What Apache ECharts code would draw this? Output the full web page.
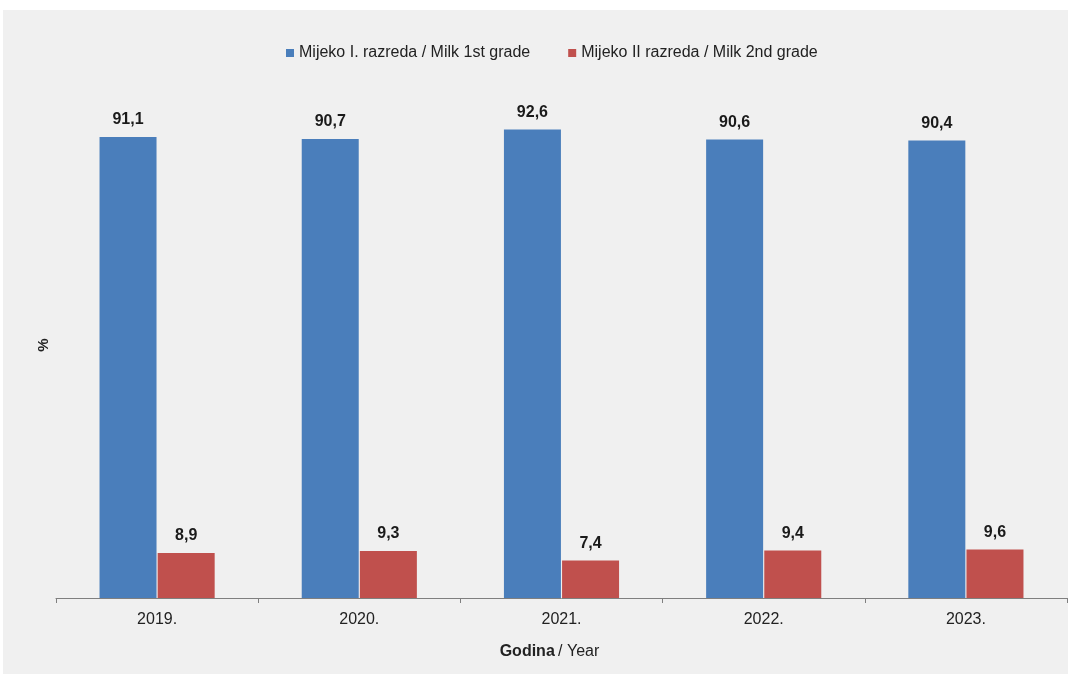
<!DOCTYPE html>
<html>
<head>
<meta charset="utf-8">
<script src="https://cdn.jsdelivr.net/npm/echarts@6/dist/echarts.min.js"></script>
<style>
html,body{margin:0;padding:0;background:#fff;}
#c{width:1072px;height:674px;}
</style>
</head>
<body>
<div id="c"></div>
<script>
const categories = ['2019.', '2020.', '2021.', '2022.', '2023.'];
const firstGrade = [91.1, 90.7, 92.6, 90.6, 90.4];
const secondGrade = [8.9, 9.3, 7.4, 9.4, 9.6];
const seriesNames = ['Mijeko I. razreda / Milk 1st grade', 'Mijeko II razreda / Milk 2nd grade'];

const chart = echarts.init(document.getElementById('c'));
const font = '"Liberation Sans", Arial, sans-serif';
const labelFmt = p => p.value.toFixed(1).replace('.', ',');
chart.setOption({
  backgroundColor: '#ffffff',
  textStyle: { fontFamily: font },
  graphic: [{
    type: 'rect', z: -100, silent: true,
    shape: { x: 3, y: 10, width: 1065, height: 664 },
    style: { fill: '#f0f0f0' }
  }],
  legend: {
    top: 40, left: 281,
    icon: 'rect', itemWidth: 8, itemHeight: 8, itemGap: 38,
    textStyle: { fontSize: 16, color: '#222', fontFamily: font },
    data: seriesNames
  },
  grid: { left: 56, right: 5, top: 92, bottom: 76 },
  xAxis: {
    type: 'category', data: categories,
    axisLine: { lineStyle: { color: '#7f7f7f', width: 1 } },
    axisTick: { show: true, length: 5, lineStyle: { color: '#7f7f7f' } },
    axisLabel: { color: '#222', fontSize: 16, margin: 14, fontFamily: font },
    name: '{b|Godina} {n|/ Year}',
    nameLocation: 'middle', nameGap: 46,
    nameTextStyle: {
      padding: [0, 24, 0, 0],
      rich: {
        b: { fontWeight: 'bold', fontSize: 16, color: '#222', fontFamily: font },
        n: { fontSize: 16, color: '#222', fontFamily: font }
      }
    }
  },
  yAxis: {
    type: 'value', min: 0, max: 100,
    axisLine: { show: false }, axisTick: { show: false },
    axisLabel: { show: false }, splitLine: { show: false },
    name: '%', nameLocation: 'middle', nameRotate: 90, nameGap: 5,
    nameTextStyle: { fontWeight: 'bold', fontSize: 15, color: '#222', fontFamily: font }
  },
  series: [
    {
      name: seriesNames[0], type: 'bar', data: firstGrade,
      barWidth: 57, barGap: '2%',
      itemStyle: { color: '#4a7ebb' },
      label: { show: true, position: 'top', distance: 9, formatter: labelFmt,
        fontWeight: 'bold', fontSize: 16, color: '#1a1a1a', fontFamily: font }
    },
    {
      name: seriesNames[1], type: 'bar', data: secondGrade,
      barWidth: 57,
      itemStyle: { color: '#c0504d' },
      label: { show: true, position: 'top', distance: 9, formatter: labelFmt,
        fontWeight: 'bold', fontSize: 16, color: '#1a1a1a', fontFamily: font }
    }
  ]
});
</script>
</body>
</html>
